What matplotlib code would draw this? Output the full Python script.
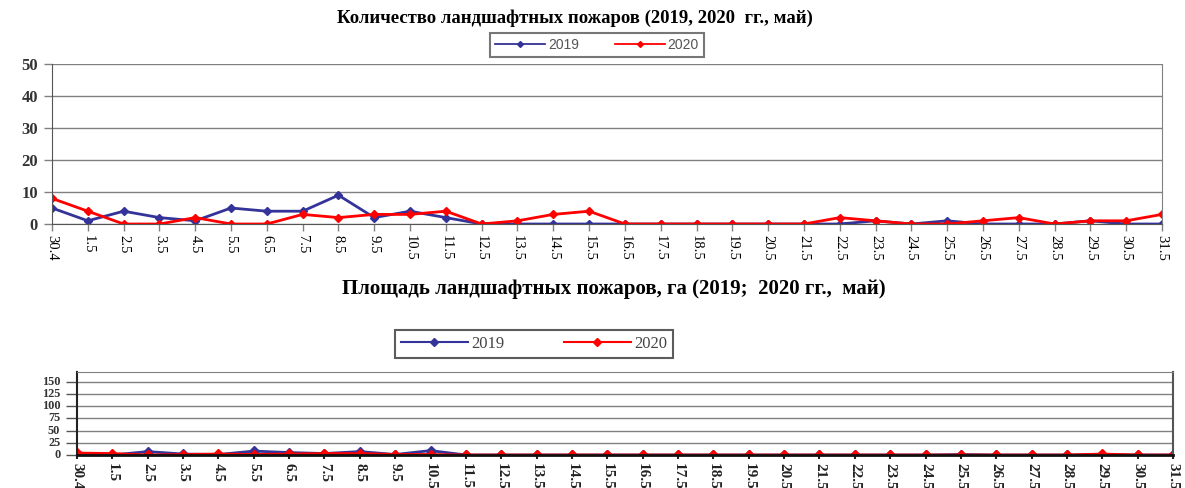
import matplotlib
matplotlib.use("Agg")
import matplotlib.pyplot as plt
from matplotlib.ticker import MultipleLocator

dates = ["30.4"] + [f"{d}.5" for d in range(1, 32)]

count_2019 = [5, 1, 4, 2, 1, 5, 4, 4, 9, 2, 4, 2, 0, 0, 0, 0, 0, 0, 0, 0, 0, 0, 0, 1, 0, 1, 0, 0, 0, 1, 0, 0]
count_2020 = [8, 4, 0, 0, 2, 0, 0, 3, 2, 3, 3, 4, 0, 1, 3, 4, 0, 0, 0, 0, 0, 0, 2, 1, 0, 0, 1, 2, 0, 1, 1, 3]

area_2019 = [0, 0, 7, 2, 1, 8, 5, 3, 7, 1, 9, 0, 0, 0, 0, 0, 0, 0, 0, 0, 0, 0, 0, 0, 0, 1, 0, 0, 0, 1, 0, 0]
area_2020 = [4, 3, 0, 1, 2, 1, 2, 3, 3, 1, 1, 0, 0, 0, 0, 0, 0, 0, 0, 0, 0, 0, 0, 0, 0, 0, 0, 0, 0, 2, 0, 0]
area_ticks = [0, 25, 50, 75, 100, 125, 150]

title_top = "Количество ландшафтных пожаров (2019, 2020  гг., май)"
title_bot = "Площадь ландшафтных пожаров, га (2019;  2020 гг.,  май)"

BLUE = "#333399"
RED = "#FF0000"
SERIF = "Liberation Serif"

W, H = 1185, 488
fig = plt.figure(figsize=(W / 100, H / 100), dpi=100)

def box(x0, y0, x1, y1):
    return [x0 / W, 1 - y1 / H, (x1 - x0) / W, (y1 - y0) / H]

x = list(range(len(dates)))

# ---------- top chart ----------
ax1 = fig.add_axes(box(52, 64, 1162, 224))
l1, = ax1.plot(x, count_2019, color=BLUE, lw=2, marker="D", ms=4.5, label="2019")
l2, = ax1.plot(x, count_2020, color=RED, lw=2, marker="D", ms=4.5, label="2020")
ax1.set_xlim(0, len(dates) - 1)
ax1.set_ylim(0, 50)
ax1.yaxis.set_major_locator(MultipleLocator(10))
ax1.grid(axis="y", color="#808080", lw=1)
ax1.set_axisbelow(True)
ax1.set_xticks(x)
ax1.set_xticklabels(dates, rotation=270, fontsize=10.5, family=SERIF)
ax1.tick_params(axis="y", labelsize=12, length=6, width=1, color="#808080", pad=4)
ax1.tick_params(axis="x", length=5, width=1, color="#808080", pad=3)
for lab in ax1.get_yticklabels():
    lab.set_family(SERIF)
    lab.set_fontweight("bold")
    lab.set_color("#333333")
ax1.spines["top"].set_visible(False)
ax1.spines["right"].set_color("#808080")
ax1.spines["left"].set_color("#555555")
ax1.spines["bottom"].set_color("#555555")
fig.text(575 / W, 1 - 18 / H, title_top, ha="center", va="center",
         fontsize=13.5, fontweight="bold", family=SERIF)
leg1 = fig.legend(handles=[l1, l2], loc="center", bbox_to_anchor=(597 / W, 1 - 45 / H),
                  ncol=2, frameon=True, fancybox=False, edgecolor="#555555",
                  prop={"size": 10, "family": "Liberation Sans"}, handlelength=3.6,
                  columnspacing=2.6, borderpad=0.35, handletextpad=0.2)
for t in leg1.get_texts():
    t.set_color("#555555")
for h in leg1.legend_handles:
    h.set_linewidth(1.3)
    h.set_markersize(3)
leg1.get_frame().set_linewidth(1.5)

# ---------- bottom chart ----------
ax2 = fig.add_axes(box(77, 372, 1173, 455))
m1, = ax2.plot(x, area_2019, color=BLUE, lw=2, marker="D", ms=5, label="2019")
m2, = ax2.plot(x, area_2020, color=RED, lw=2, marker="D", ms=5, label="2020")
ax2.set_xlim(0, len(dates) - 1)
ax2.set_ylim(0, 170)
ax2.set_yticks(area_ticks)
ax2.grid(axis="y", color="#808080", lw=1)
ax2.set_axisbelow(True)
ax2.set_xticks(x)
ax2.set_xticklabels(dates, rotation=270, fontsize=11, family=SERIF)
ax2.tick_params(axis="y", labelsize=8.8, length=8, width=1, color="#555555", pad=4)
ax2.tick_params(axis="x", length=3, width=1.5, color="#222222", pad=3)
for lab in ax2.get_yticklabels():
    lab.set_family(SERIF)
    lab.set_fontweight("bold")
    lab.set_color("#333333")
    lab.set_va("center")
for lab in ax2.get_xticklabels():
    lab.set_fontweight("bold")
    lab.set_color("#222222")
ax2.spines["top"].set_color("#808080")
ax2.spines["right"].set_color("#555555")
ax2.spines["right"].set_linewidth(1.5)
ax2.spines["left"].set_color("#222222")
ax2.spines["left"].set_linewidth(1.5)
ax2.spines["bottom"].set_color("#111111")
ax2.spines["bottom"].set_linewidth(2)
fig.text(614 / W, 1 - 289 / H, title_bot, ha="center", va="center",
         fontsize=15, fontweight="bold", family=SERIF)
leg2 = fig.legend(handles=[m1, m2], loc="center", bbox_to_anchor=(534 / W, 1 - 344 / H),
                  ncol=2, frameon=True, fancybox=False, edgecolor="#333333",
                  prop={"size": 12, "family": SERIF}, handlelength=4.0,
                  columnspacing=3.6, borderpad=0.35, handletextpad=0.2)
for t in leg2.get_texts():
    t.set_color("#444444")
for h in leg2.legend_handles:
    h.set_linewidth(1.5)
    h.set_markersize(4)
leg2.get_frame().set_linewidth(1.5)

fig.savefig("out.png", dpi=100)
